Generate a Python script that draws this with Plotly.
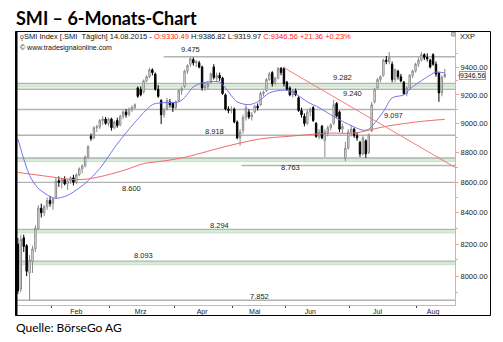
import math
import pandas as pd
import plotly.graph_objects as go

W, H = 503, 342

# SIX trading days 15.01.2015 - 14.08.2015 (exchange holidays removed)
holidays = ["2015-04-03", "2015-04-06", "2015-05-01", "2015-05-14", "2015-05-25"]
dates = [d for d in pd.bdate_range("2015-01-15", "2015-08-14")
         if d.strftime("%Y-%m-%d") not in holidays]

open_ = [8200, 7920, 8240, 8190, 8020, 8090, 8170, 8300, 8430, 8400, 8440, 8480,
         8460, 8500, 8610, 8600, 8620, 8590, 8610, 8630, 8600, 8650, 8690, 8710,
         8770, 8910, 8900, 8970, 8975, 9020, 9030, 9000,
         9030, 8970, 9020, 8990, 9050, 9080, 9060, 9100, 9110, 9250, 9240, 9220,
         9300, 9330, 9380, 9350, 9240, 9160, 9060, 9100, 9150, 9140,
         9110, 9160, 9230, 9260, 9370, 9420, 9455, 9430, 9430, 9400, 9250, 9260,
         9290, 9400, 9320, 9340, 9320, 9200, 9100, 9090,
         9100, 9010, 8900, 8950, 9040, 9080, 9045, 9080, 9120, 9130, 9210, 9230,
         9310, 9360, 9290, 9320, 9390, 9390,
         9290, 9250, 9200, 9230, 9180, 9090, 9050, 9000, 9080, 9110, 9000, 8910,
         8980, 8880, 8940, 8970, 9000, 9140, 9080, 8960, 8760, 8830,
         8940, 8960, 8915, 8870, 8790, 8880, 8800, 8950, 9150, 9250, 9310, 9340,
         9450, 9440, 9420, 9310, 9370, 9330, 9290, 9210, 9250, 9340, 9370,
         9420, 9450, 9490, 9470, 9450, 9490, 9420, 9357, 9214, 9330.49]
high = [8240, 8260, 8260, 8200, 8130, 8190, 8320, 8450, 8460, 8450, 8500, 8510,
        8500, 8630, 8640, 8630, 8640, 8620, 8640, 8650, 8660, 8700, 8720, 8780,
        8850, 8930, 8980, 8990, 9030, 9050, 9045, 9040,
        9040, 9020, 9040, 9060, 9090, 9100, 9110, 9125, 9140, 9260, 9260, 9310,
        9340, 9395, 9390, 9360, 9270, 9170, 9110, 9180, 9170, 9150,
        9160, 9240, 9260, 9380, 9420, 9475, 9470, 9450, 9445, 9410, 9290, 9300,
        9360, 9420, 9360, 9360, 9330, 9210, 9120, 9120,
        9110, 9020, 8960, 9060, 9130, 9100, 9080, 9130, 9140, 9225, 9230, 9320,
        9365, 9370, 9330, 9400, 9400, 9400,
        9300, 9260, 9240, 9245, 9190, 9110, 9070, 9100, 9110, 9120, 9010, 8960,
        8990, 8960, 8985, 9000, 9165, 9150, 9090, 9000, 8873, 8960,
        8990, 8970, 8940, 8880, 8915, 8890, 8930, 9150, 9250, 9320, 9340, 9460,
        9480, 9510, 9440, 9390, 9380, 9350, 9300, 9260, 9350, 9380, 9430,
        9470, 9510, 9500, 9500, 9460, 9500, 9440, 9360, 9340, 9386.82]
low = [7890, 7900, 8150, 8000, 7852, 8020, 8150, 8290, 8370, 8380, 8420, 8440,
       8420, 8490, 8570, 8560, 8580, 8550, 8590, 8580, 8590, 8640, 8660, 8700,
       8760, 8880, 8890, 8940, 8960, 8990, 8990, 8980,
       8950, 8960, 8970, 8980, 9030, 9040, 9050, 9080, 9100, 9180, 9190, 9210,
       9290, 9320, 9340, 9230, 9180, 8995, 9040, 9090, 9110, 9080,
       9100, 9150, 9200, 9250, 9350, 9400, 9410, 9400, 9390, 9230, 9230, 9240,
       9280, 9310, 9290, 9300, 9200, 9090, 9070, 9070,
       9000, 8890, 8846, 8930, 9020, 9030, 9020, 9070, 9090, 9120, 9190, 9220,
       9300, 9260, 9270, 9310, 9340, 9260,
       9230, 9190, 9180, 9190, 9080, 9040, 8980, 8990, 9050, 9010, 8900, 8890,
       8890, 8770, 8910, 8950, 8990, 9040, 8940, 8930, 8740, 8820,
       8910, 8900, 8880, 8770, 8780, 8763, 8790, 8940, 9140, 9240, 9290, 9330,
       9420, 9420, 9290, 9290, 9310, 9290, 9200, 9190, 9240, 9320, 9360,
       9400, 9440, 9450, 9440, 9390, 9410, 9330, 9151, 9190, 9319.97]
close = [7910, 8230, 8185, 8030, 8100, 8170, 8300, 8430, 8400, 8440, 8480, 8460,
         8490, 8610, 8600, 8620, 8590, 8610, 8630, 8600, 8650, 8690, 8710, 8770,
         8840, 8895, 8970, 8975, 9020, 9030, 9000, 9030,
         8970, 9010, 8985, 9050, 9080, 9060, 9100, 9110, 9130, 9190, 9200, 9300,
         9330, 9380, 9360, 9240, 9190, 9060, 9090, 9160, 9130, 9110,
         9150, 9230, 9245, 9370, 9410, 9460, 9430, 9440, 9400, 9250, 9260, 9280,
         9350, 9325, 9340, 9320, 9210, 9100, 9090, 9100,
         9010, 8900, 8940, 9040, 9110, 9045, 9060, 9120, 9110, 9210, 9220, 9310,
         9350, 9280, 9320, 9390, 9360, 9280,
         9240, 9200, 9230, 9200, 9090, 9060, 9000, 9080, 9100, 9020, 8910, 8940,
         8900, 8940, 8970, 8990, 9130, 9050, 8960, 8980, 8830, 8940,
         8960, 8915, 8900, 8790, 8900, 8790, 8920, 9130, 9240, 9310, 9330, 9450,
         9440, 9470, 9310, 9380, 9330, 9300, 9210, 9250, 9340, 9370, 9420,
         9450, 9490, 9470, 9460, 9400, 9420, 9350, 9214, 9325.20, 9346.56]

# moving averages, sampled on selected trading days (index into dates)
ma_fast_idx = [0, 4, 7, 11, 13, 17, 23, 28, 34, 40, 46, 49, 55, 57, 60, 63, 69, 71,
               75, 79, 82, 86, 91, 94, 99, 103, 108, 113, 118, 120, 125, 128, 132,
               135, 141, 143, 146]
ma_fast_val = [8893, 8646, 8560, 8507, 8494, 8514, 8593, 8692, 8859, 9007, 9131,
               9144, 9151, 9180, 9257, 9285, 9292, 9249, 9151, 9131, 9151, 9214,
               9234, 9220, 9151, 9110, 9048, 8994, 8953, 8960, 9082, 9179, 9200,
               9257, 9342, 9364, 9357]
ma_slow_idx = [0, 10, 18, 23, 30, 37, 43, 51, 58, 72, 83, 94, 107, 115, 126, 138, 146]
ma_slow_val = [8666, 8640, 8620, 8620, 8646, 8685, 8725, 8746, 8772, 8846, 8893,
               8913, 8933, 8933, 8980, 9014, 9028]

# falling trend line (start / end)
trend_idx = [90.6, 149.5]
trend_val = [9400, 8700]

levels = [9475, 9282, 9240, 9097, 8918, 8763, 8600, 8294, 8093, 7852]
band_levels = [9282, 8763, 8294, 8093]

month_names = ["Feb", "Mrz", "Apr", "Mai", "Jun", "Jul", "Aug"]
month_label_days = ["2015-02-12", "2015-03-16", "2015-04-16", "2015-05-13",
                    "2015-06-11", "2015-07-14", "2015-08-10"]

y_ticks = [8000, 8200, 8400, 8600, 8800, 9000, 9200, 9400]
y_minor = [7900, 8100, 8300, 8500, 8700, 8900, 9100, 9300, 9500]

# ---------------------------------------------------------------- layout helpers
X0, X1 = -0.3, 149.5
def px(x):
    return x / W
def py(y):
    return 1 - y / H

date_str = [d.strftime("%Y-%m-%d") for d in dates]
idx = list(range(len(dates)))
tick_idx = [date_str.index(d) for d in month_label_days]
# month boundaries: halfway between last day of a month and first day of the next
month_bounds = [i - 0.5 for i in range(1, len(dates)) if dates[i].month != dates[i - 1].month]

FONT = "Liberation Sans, Arial, sans-serif"
PINK = "#f3a3a3"
GRAY = "#b3b3b3"
BAND = 0.9972

fig = go.Figure()

fig.add_trace(go.Candlestick(
    x=idx, open=open_, high=high, low=low, close=close,
    increasing=dict(line=dict(color="#8a8a8a", width=1), fillcolor="#ffffff"),
    decreasing=dict(line=dict(color="#000000", width=1), fillcolor="#000000"),
    whiskerwidth=0, showlegend=False, hoverinfo="skip"))

fig.add_trace(go.Scatter(x=ma_fast_idx, y=ma_fast_val, mode="lines",
                         line=dict(color="#7474f0", width=1, shape="spline", smoothing=0.8),
                         showlegend=False, hoverinfo="skip"))
fig.add_trace(go.Scatter(x=ma_slow_idx, y=ma_slow_val, mode="lines",
                         line=dict(color="#f06a6a", width=1, shape="spline", smoothing=0.8),
                         showlegend=False, hoverinfo="skip"))
fig.add_trace(go.Scatter(x=trend_idx, y=trend_val, mode="lines",
                         line=dict(color="#f47a7a", width=1),
                         showlegend=False, hoverinfo="skip", cliponaxis=True))

shapes = []
# support / resistance zones and lines
for v in levels:
    x_start = 0.0
    if v == 9475:
        x_start = 0.335
    if v in band_levels:
        shapes.append(dict(type="rect", xref="x domain", yref="y", layer="below",
                           x0=x_start, x1=1, y0=v, y1=v * BAND,
                           fillcolor="#d8ead8", line=dict(width=0)))
        shapes.append(dict(type="line", xref="x domain", yref="y", layer="below",
                           x0=x_start, x1=1, y0=v, y1=v,
                           line=dict(color="#adb9ad", width=1.3)))
        shapes.append(dict(type="line", xref="x domain", yref="y", layer="below",
                           x0=x_start, x1=1, y0=v * BAND, y1=v * BAND,
                           line=dict(color="#c8d9c8", width=0.8)))
    else:
        shapes.append(dict(type="line", xref="x domain", yref="y", layer="below",
                           x0=x_start, x1=1, y0=v, y1=v,
                           line=dict(color=GRAY, width=1.4)))
# short line below the 8.763 zone
shapes.append(dict(type="line", xref="x", yref="y", layer="below",
                   x0=76.5, x1=X1, y0=8712, y1=8712,
                   line=dict(color=GRAY, width=1.4)))
# outer frame
shapes.append(dict(type="rect", xref="paper", yref="paper",
                   x0=px(15.5), x1=px(490.5), y0=py(315.5), y1=py(31.5),
                   line=dict(color="#000000", width=1)))
shapes.append(dict(type="line", xref="paper", yref="paper",
                   x0=px(16.5), x1=px(16.5), y0=py(315.5), y1=py(31.5),
                   line=dict(color="#000000", width=2)))
# small window button next to the price scale
shapes.append(dict(type="rect", xref="paper", yref="paper",
                   x0=px(451.5), x1=px(455), y0=py(36), y1=py(32.5),
                   line=dict(color="#9a9a9a", width=1), fillcolor="#d0d0d0"))

annotations = []
# level labels: (x index, pixel offset from the line)
label_pos = {9475: (59.2, 7), 9282: (110.9, 6), 9240: (114.6, -4), 9097: (128.6, -6),
             8918: (67.4, 4), 8763: (93.1, -10), 8600: (39.0, -6), 8294: (68.8, 4),
             8093: (43.1, 6), 7852: (82.8, 4)}
for v in levels:
    xi, dy = label_pos[v]
    annotations.append(dict(x=xi, y=math.log10(v), xref="x", yref="y",
                            text=f"{v:,}".replace(",", "."), showarrow=False,
                            yshift=dy, font=dict(family=FONT, size=7.5, color="#222222")))

# titles and header line
annotations.append(dict(x=px(14), y=py(18), xref="paper", yref="paper", xanchor="left",
                        yanchor="middle", showarrow=False, text="<b>SMI – 6-Monats-Chart</b>",
                        font=dict(family="Lato, sans-serif", size=18, color="#000000")))
annotations.append(dict(x=px(14), y=py(327), xref="paper", yref="paper", xanchor="left",
                        yanchor="middle", showarrow=False, text="Quelle: BörseGo AG",
                        font=dict(family="Lato, sans-serif", size=12, color="#000000")))
red = "<span style='color:#ff2020'>"
header = ("SMI Index [.SMI  Täglich] 14.08.2015 - " + red + "O:9330.49</span>"
          " H:9386.82 L:9319.97 " + red + "C:9346.56 +21.36 +0.23%</span>")
annotations.append(dict(x=px(22), y=py(36.5), xref="paper", yref="paper", xanchor="left",
                        yanchor="middle", showarrow=False, text=header,
                        font=dict(family=FONT, size=7.5, color="#111111")))
annotations.append(dict(x=px(17.5), y=py(36.5), xref="paper", yref="paper", xanchor="left",
                        yanchor="middle", showarrow=False, text="ǫ",
                        font=dict(family=FONT, size=7, color="#333333")))
annotations.append(dict(x=px(17.5), y=py(48), xref="paper", yref="paper", xanchor="left",
                        yanchor="middle", showarrow=False, text="© www.tradesignalonline.com",
                        font=dict(family=FONT, size=7, color="#111111")))
annotations.append(dict(x=px(458), y=py(36.5), xref="paper", yref="paper", xanchor="left",
                        yanchor="middle", showarrow=False, text="XXP",
                        font=dict(family=FONT, size=7.5, color="#111111")))
# last price marker
annotations.append(dict(x=px(459), y=math.log10(close[-1]), xref="paper", yref="y",
                        xanchor="left", yanchor="middle", showarrow=False, yshift=-1.5,
                        text=f"{close[-1]:.2f}", bgcolor="#ffffff",
                        bordercolor="#9a9a9a", borderwidth=1, borderpad=0,
                        font=dict(family=FONT, size=7, color="#111111")))
annotations.append(dict(x=px(455.5), y=math.log10(close[-1]), xref="paper", yref="y",
                        xanchor="left", yanchor="middle", showarrow=False, text="‹",
                        yshift=-1.5, font=dict(family=FONT, size=8, color="#555555")))

fig.update_layout(
    width=W, height=H, margin=dict(l=0, r=0, t=0, b=0),
    paper_bgcolor="#ffffff", plot_bgcolor="#ffffff",
    shapes=shapes, annotations=annotations, boxgap=0.3,
    xaxis=dict(domain=[px(17), px(455)], range=[X0, X1], showgrid=False, zeroline=False,
               showline=True, linecolor=PINK, linewidth=1, ticks="",
               tickmode="array", tickvals=tick_idx, ticktext=month_names,
               tickfont=dict(family=FONT, size=7, color="#222222"),
               minor=dict(tickmode="array", tickvals=month_bounds, ticks="outside",
                          ticklen=2, tickcolor="#444444", showgrid=False),
               rangeslider=dict(visible=False)),
    yaxis=dict(type="log", domain=[py(305), py(32)],
               range=[math.log10(7823.6), math.log10(9657.4)],
               side="right", showgrid=False, zeroline=False, showline=True,
               linecolor=PINK, linewidth=1, ticks="outside", ticklen=3, tickcolor=PINK,
               tickmode="array", tickvals=y_ticks, ticktext=[f"{t:.2f}" for t in y_ticks],
               tickfont=dict(family=FONT, size=7.5, color="#222222"),
               minor=dict(tickmode="array", tickvals=y_minor, ticks="outside",
                          ticklen=2, tickcolor=PINK, showgrid=False)),
)

fig.write_html("out.html")
